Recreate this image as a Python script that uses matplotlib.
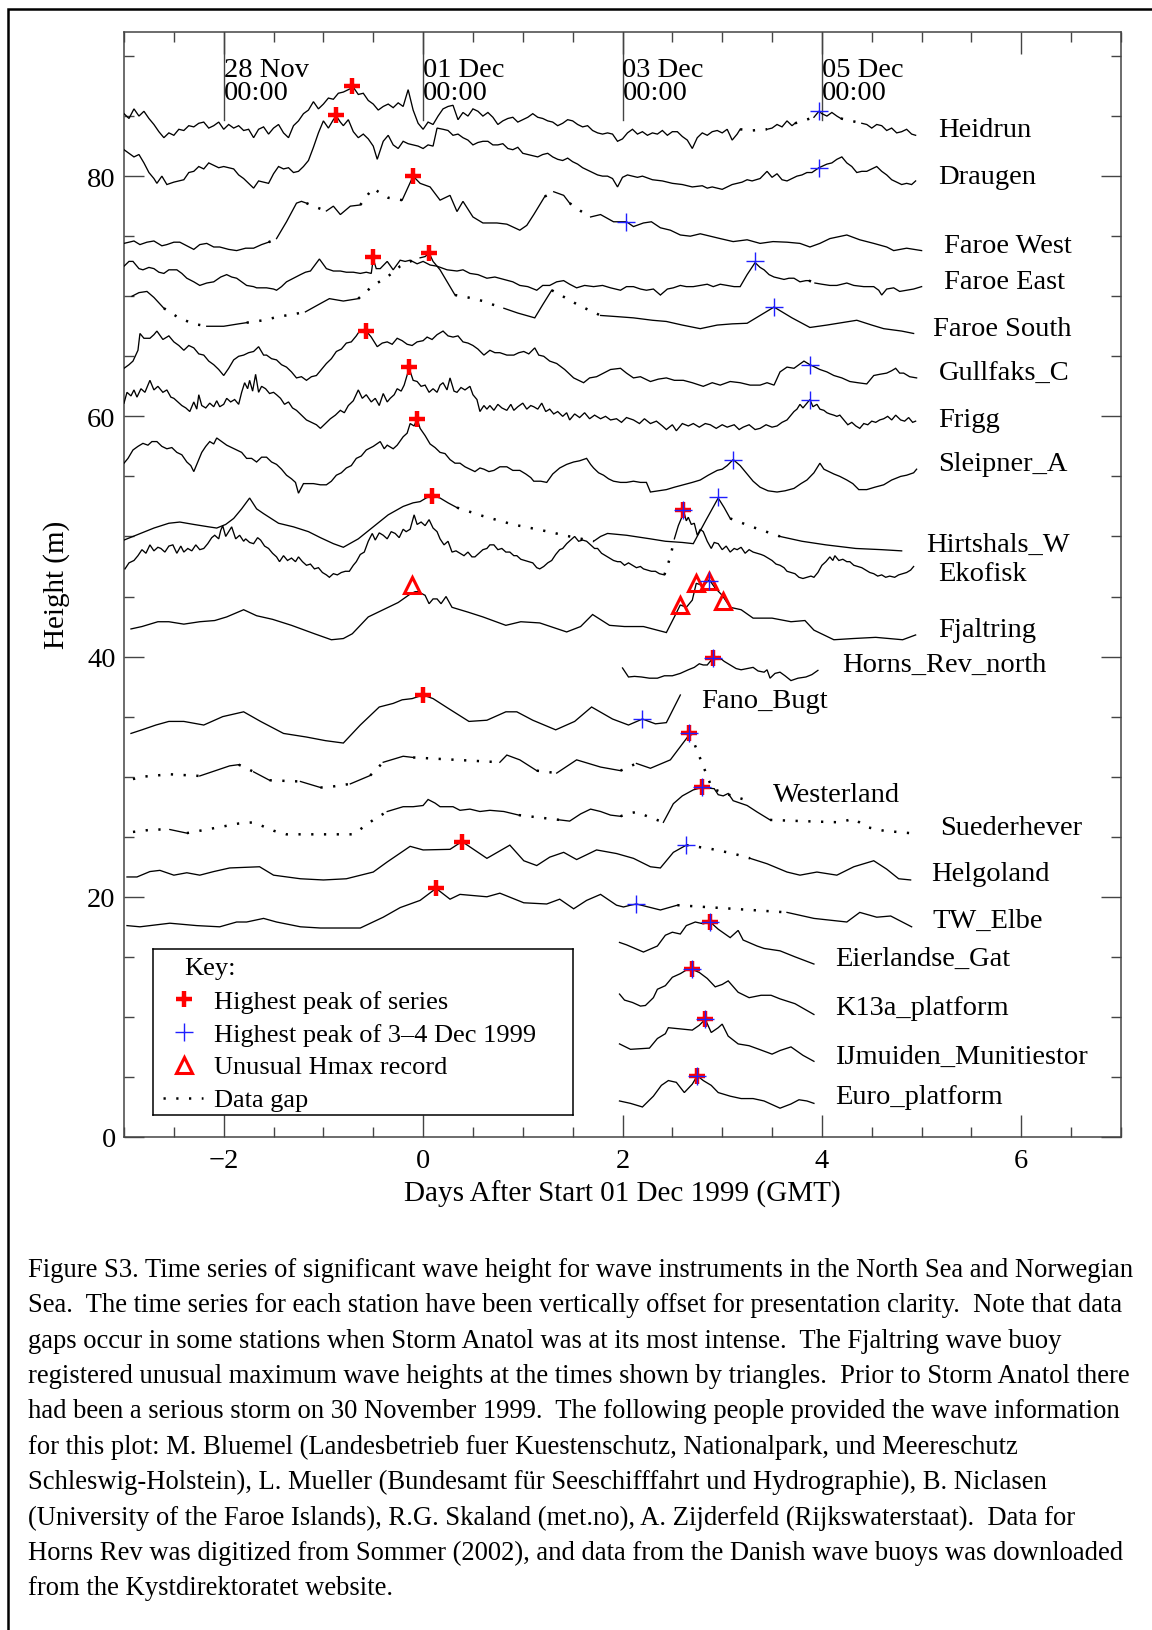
import numpy as np
import matplotlib
matplotlib.use("Agg")
import matplotlib.pyplot as plt
from matplotlib.patches import Rectangle
from matplotlib.ticker import MultipleLocator

plt.rcParams['font.family'] = ['Liberation Serif', 'DejaVu Serif']

# ---------------------------------------------------------------------------
# Significant wave height series (days after 01 Dec 1999, offset height in m)
# ---------------------------------------------------------------------------
heidrun = [(-3.0,85.2),(-2.95,84.8),(-2.9,85.6),(-2.85,85.0),(-2.8,85.4),(-2.75,84.8),(-2.7,84.3),(-2.65,83.7),
    (-2.6,83.2),(-2.55,83.6),(-2.5,83.4),(-2.45,83.9),(-2.4,83.8),(-2.35,84.2),(-2.3,84.1),(-2.25,84.4),(-2.2,84.5),
    (-2.15,84.0),(-2.1,84.2),(-2.05,84.5),(-2.0,83.9),(-1.95,84.3),(-1.9,84.0),(-1.85,84.2),(-1.8,83.8),(-1.75,83.9),
    (-1.7,83.2),(-1.65,83.9),(-1.6,84.1),(-1.55,83.5),(-1.5,84.0),(-1.45,84.3),(-1.4,83.6),(-1.35,83.2),(-1.3,84.2),
    (-1.25,84.6),(-1.2,85.2),(-1.15,85.5),(-1.1,86.2),(-1.05,85.6),(-1.0,86.0),(-0.95,86.5),(-0.9,86.4),(-0.85,86.9),
    (-0.8,87.0),(-0.75,87.2),(-0.7,87.4),(-0.65,86.8),(-0.6,86.9),(-0.55,86.3),(-0.5,86.0),(-0.45,85.5),(-0.4,85.8),
    (-0.35,86.0),(-0.3,85.7),(-0.25,86.1),(-0.2,85.8),(-0.15,87.2),(-0.1,85.5),(-0.05,84.4),(0.0,83.9),(0.05,84.5),
    (0.1,84.3),(0.15,85.0),(0.2,85.6),(0.25,85.8),(0.3,85.9),(0.35,84.7),(0.4,85.3),(0.45,85.0),(0.5,85.6),(0.55,85.4),
    (0.6,85.0),(0.65,85.3),(0.7,84.9),(0.75,84.3),(0.8,84.6),(0.85,84.8),(0.9,84.9),(0.95,84.5),(1.0,84.7),(1.05,84.9),
    (1.1,85.2),(1.15,84.9),(1.2,84.8),(1.25,84.6),(1.3,84.5),(1.35,84.2),(1.4,84.4),(1.45,84.7),(1.5,84.6),(1.55,84.3),
    (1.6,84.1),(1.65,84.2),(1.7,83.8),(1.75,83.6),(1.8,83.5),(1.85,83.6),(1.9,83.5),(1.95,82.9),(2.0,83.1),(2.05,83.6),
    (2.1,83.9),(2.15,83.5),(2.2,83.7),(2.25,83.4),(2.3,83.6),(2.35,83.5),(2.4,83.8),(2.45,83.4),(2.5,83.7),(2.55,83.7),
    (2.6,83.3),(2.65,83.0),(2.7,82.3),(2.75,83.2),(2.8,83.6),(2.85,83.4),(2.9,83.7),(2.95,83.8),(3.0,83.6),(3.05,83.9),
    (3.1,83.0),(3.15,83.5),(3.18,83.9),(3.3,83.8),(3.45,83.9),(3.5,84.0),(3.55,84.3),(3.6,84.1),(3.65,84.6),(3.7,84.2),
    (3.73,84.4),(3.92,84.9),(3.97,85.4),(4.0,85.2),(4.05,85.0),(4.1,85.3),(4.15,85.0),(4.19,84.8),(4.4,84.4),(4.45,84.3),
    (4.5,84.0),(4.55,84.3),(4.6,84.2),(4.65,83.8),(4.7,84.0),(4.75,83.6),(4.8,83.7),(4.85,83.9),(4.9,83.5),(4.94,83.4)]
heidrun_gaps = [(3.18, 3.45), (3.73, 3.92), (4.19, 4.40)]

draugen = [(-3.0,82.2),(-2.95,81.9),(-2.9,81.6),(-2.85,81.8),(-2.8,81.1),(-2.75,80.3),(-2.7,79.8),(-2.67,79.4),
    (-2.62,80.0),(-2.57,79.3),(-2.5,79.5),(-2.45,79.6),(-2.4,79.7),(-2.35,80.3),(-2.3,80.4),(-2.25,80.8),(-2.2,80.6),
    (-2.15,81.1),(-2.1,80.9),(-2.05,80.7),(-2.0,80.8),(-1.95,80.7),(-1.9,80.6),(-1.85,80.1),(-1.8,79.8),(-1.75,79.4),
    (-1.7,79.0),(-1.65,79.6),(-1.6,79.5),(-1.55,79.4),(-1.5,80.2),(-1.45,80.8),(-1.4,80.6),(-1.35,80.7),(-1.3,80.3),
    (-1.25,80.4),(-1.2,80.8),(-1.15,81.3),(-1.1,82.4),(-1.05,83.6),(-1.0,84.6),(-0.95,84.0),(-0.9,84.7),(-0.87,85.0),
    (-0.83,84.5),(-0.8,84.2),(-0.75,84.7),(-0.7,83.7),(-0.65,83.2),(-0.6,83.5),(-0.55,83.1),(-0.5,82.5),(-0.46,81.4),
    (-0.4,82.9),(-0.35,83.4),(-0.3,82.6),(-0.25,82.3),(-0.2,82.9),(-0.15,82.7),(-0.1,82.6),(-0.05,82.5),(0.0,82.3),
    (0.05,82.6),(0.1,82.5),(0.14,84.0),(0.2,83.9),(0.25,83.8),(0.3,83.4),(0.35,83.5),(0.4,83.2),(0.45,83.0),(0.5,82.6),
    (0.55,82.8),(0.6,82.9),(0.65,82.9),(0.7,82.6),(0.75,82.6),(0.8,82.7),(0.85,82.3),(0.9,82.2),(0.95,82.4),(1.0,81.9),
    (1.05,81.8),(1.1,81.7),(1.15,81.6),(1.2,81.8),(1.25,81.9),(1.3,81.6),(1.35,81.4),(1.4,81.3),(1.45,81.5),(1.5,81.2),
    (1.55,81.0),(1.6,80.7),(1.65,80.5),(1.7,80.3),(1.75,80.1),(1.8,80.0),(1.85,80.0),(1.9,79.8),(1.95,79.1),(2.0,79.9),
    (2.05,80.1),(2.1,80.0),(2.15,79.9),(2.2,80.0),(2.3,79.7),(2.4,79.6),(2.5,79.4),(2.6,79.3),(2.7,79.1),(2.8,79.2),
    (2.85,79.0),(2.9,79.1),(3.0,78.9),(3.05,79.1),(3.1,79.3),(3.2,79.5),(3.25,79.7),(3.3,79.6),(3.38,79.8),(3.45,80.4),
    (3.5,79.9),(3.55,80.2),(3.6,79.7),(3.65,79.6),(3.7,79.8),(3.75,80.0),(3.8,80.1),(3.85,80.3),(3.9,80.3),(3.97,80.7),
    (4.05,81.0),(4.1,81.1),(4.15,81.4),(4.2,81.6),(4.25,81.1),(4.3,80.8),(4.35,80.3),(4.4,80.4),(4.45,80.4),(4.5,80.6),
    (4.55,80.8),(4.6,80.4),(4.65,80.1),(4.7,79.7),(4.75,79.5),(4.8,79.3),(4.85,79.4),(4.9,79.3),(4.94,79.6)]
draugen_gaps = []

faroe_west = [(-3.0,74.4),(-2.9,74.6),(-2.84,74.3),(-2.77,74.5),(-2.7,74.6),(-2.62,74.2),(-2.57,74.3),(-2.5,74.5),
    (-2.44,74.5),(-2.37,74.2),(-2.3,73.9),(-2.24,74.3),(-2.17,74.4),(-2.1,74.1),(-2.04,74.1),(-1.95,73.9),(-1.87,73.8),
    (-1.78,74.0),(-1.7,74.0),(-1.62,74.3),(-1.55,74.5),(-1.47,74.8),(-1.37,76.2),(-1.27,77.75),(-1.22,77.9),
    (-1.17,77.75),(-1.07,77.4),(-0.97,77.1),(-0.9,77.5),(-0.83,76.8),(-0.73,77.5),(-0.63,77.6),(-0.55,78.5),
    (-0.5,79.0),(-0.45,78.7),(-0.35,78.2),(-0.21,78.0),(-0.1,80.0),(-0.03,79.4),(0.07,79.1),(0.17,78.0),(0.27,78.4),
    (0.34,77.05),(0.4,77.9),(0.5,76.6),(0.6,76.1),(0.74,76.1),(0.84,76.0),(0.97,75.5),(1.04,75.9),(1.11,76.8),
    (1.22,78.3),(1.31,78.7),(1.41,78.4),(1.47,77.75),(1.58,77.1),(1.68,76.6),(1.78,76.8),(1.91,76.2),(2.04,76.2),
    (2.11,75.8),(2.21,76.1),(2.29,76.2),(2.38,75.7),(2.48,75.5),(2.58,75.1),(2.68,75.0),(2.78,75.2),(2.88,75.0),
    (2.98,74.8),(3.11,74.55),(3.25,74.7),(3.38,74.4),(3.51,74.55),(3.65,74.5),(3.78,74.4),(3.88,74.1),(3.98,74.4),
    (4.08,74.8),(4.25,75.1),(4.38,74.7),(4.52,74.4),(4.65,74.1),(4.72,73.8),(4.85,74.0),(5.0,73.8)]
faroe_west_gaps = [(-1.55, -1.47), (-1.17, -0.97), (-0.63, -0.21), (1.22, 1.31), (1.47, 1.68)]

faroe_east = [(-3.0,72.5),(-2.95,72.9),(-2.91,72.9),(-2.85,72.3),(-2.81,72.2),(-2.75,72.4),(-2.7,72.3),(-2.65,72.0),
    (-2.6,71.9),(-2.55,72.2),(-2.47,72.2),(-2.42,71.9),(-2.37,71.5),(-2.3,71.2),(-2.24,70.9),(-2.17,71.1),(-2.1,71.2),
    (-2.03,71.6),(-1.97,71.8),(-1.92,71.6),(-1.87,71.5),(-1.82,71.2),(-1.77,70.9),(-1.7,70.8),(-1.67,70.7),(-1.6,70.7),
    (-1.57,70.7),(-1.5,70.6),(-1.47,70.5),(-1.42,70.8),(-1.37,71.2),(-1.3,71.5),(-1.23,71.8),(-1.18,72.0),(-1.13,72.1),
    (-1.04,73.1),(-0.97,72.3),(-0.9,72.1),(-0.83,72.1),(-0.77,72.0),(-0.7,72.0),(-0.63,71.9),(-0.57,72.0),(-0.52,71.9),
    (-0.5,73.1),(-0.47,72.3),(-0.43,72.3),(-0.36,72.9),(-0.3,72.2),(-0.23,73.0),(-0.18,72.9),(-0.13,73.0),(-0.06,72.7),
    (0.0,72.9),(0.07,72.6),(0.14,72.5),(0.24,72.2),(0.34,72.1),(0.4,72.2),(0.47,71.9),(0.55,71.8),(0.64,71.5),
    (0.72,71.6),(0.81,71.4),(0.9,71.2),(0.97,70.9),(1.05,70.8),(1.14,70.5),(1.2,70.9),(1.27,70.9),(1.34,71.2),
    (1.41,71.3),(1.47,71.0),(1.54,70.7),(1.62,70.9),(1.71,70.8),(1.8,70.9),(1.88,70.7),(1.98,70.5),(2.04,70.8),
    (2.11,70.8),(2.18,70.6),(2.24,70.5),(2.31,70.6),(2.38,70.1),(2.45,70.6),(2.51,70.7),(2.58,70.9),(2.64,70.8),
    (2.71,70.8),(2.78,70.9),(2.85,71.0),(2.91,70.8),(2.98,71.0),(3.05,70.9),(3.12,70.8),(3.18,70.8),(3.25,71.8),
    (3.33,72.8),(3.38,72.4),(3.42,72.2),(3.47,71.8),(3.52,71.6),(3.57,71.5),(3.62,71.4),(3.67,71.5),(3.72,71.5),
    (3.78,71.2),(3.84,71.3),(3.87,71.3),(3.93,71.1),(4.0,71.0),(4.08,70.9),(4.15,70.9),(4.25,71.1),(4.32,70.9),
    (4.42,70.8),(4.52,70.8),(4.57,70.5),(4.6,70.1),(4.65,70.6),(4.72,70.7),(4.78,70.4),(4.85,70.5),(4.92,70.6),(5.0,70.8)]
faroe_east_gaps = [(3.87, 3.93)]

faroe_south = [(-2.92,70.0),(-2.85,70.3),(-2.77,70.4),(-2.7,69.9),(-2.6,69.0),(-2.45,68.2),(-2.3,67.7),(-2.17,67.5),
    (-2.0,67.5),(-1.85,67.7),(-1.77,67.8),(-1.6,68.0),(-1.45,68.3),(-1.3,68.5),(-1.18,68.7),(-1.05,69.3),(-0.94,69.8),
    (-0.8,69.6),(-0.65,69.8),(-0.5,70.9),(-0.36,71.6),(-0.23,72.5),(-0.1,73.0),(-0.03,73.2),(0.02,73.3),(0.06,73.6),
    (0.1,72.9),(0.17,72.2),(0.32,70.1),(0.45,69.9),(0.6,69.6),(0.7,69.3),(0.81,69.0),(0.95,68.6),(1.12,68.2),
    (1.2,69.3),(1.29,70.5),(1.4,70.0),(1.55,69.3),(1.65,68.9),(1.78,68.4),(1.95,68.3),(2.11,68.2),(2.3,68.0),
    (2.44,67.9),(2.6,67.6),(2.78,67.3),(2.95,67.6),(3.1,67.7),(3.25,67.75),(3.52,69.1),(3.7,68.2),(3.88,67.4),
    (4.05,67.6),(4.2,67.8),(4.35,68.0),(4.5,67.6),(4.62,67.3),(4.8,67.1),(4.92,66.9)]
faroe_south_gaps = [(-2.6, -2.17), (-1.77, -1.18), (-0.65, -0.03), (0.32, 0.81), (1.29, 1.78)]

gullfaks = [(-3.0,64.0),(-2.95,64.3),(-2.91,64.6),(-2.86,65.5),(-2.84,66.9),(-2.8,66.5),(-2.74,66.5),(-2.7,66.8),
    (-2.67,67.1),(-2.61,66.4),(-2.55,66.7),(-2.5,66.2),(-2.45,65.9),(-2.4,65.5),(-2.35,65.9),(-2.3,65.7),(-2.25,65.2),
    (-2.2,65.1),(-2.15,64.6),(-2.1,64.3),(-2.05,63.9),(-2.0,63.4),(-1.95,64.0),(-1.9,64.7),(-1.85,65.0),(-1.8,65.1),
    (-1.75,65.3),(-1.7,65.4),(-1.65,65.8),(-1.6,65.1),(-1.57,65.1),(-1.52,64.8),(-1.47,64.7),(-1.42,64.3),(-1.37,64.1),
    (-1.32,63.7),(-1.27,63.2),(-1.22,63.3),(-1.17,63.0),(-1.12,63.3),(-1.07,63.4),(-1.02,63.9),(-0.97,64.4),(-0.92,64.8),
    (-0.87,65.4),(-0.82,65.6),(-0.77,66.1),(-0.72,66.2),(-0.67,66.7),(-0.63,67.2),(-0.57,67.1),(-0.52,66.6),(-0.46,65.8),
    (-0.41,66.1),(-0.36,66.2),(-0.31,66.0),(-0.26,66.5),(-0.21,66.3),(-0.16,66.0),(-0.11,65.9),(-0.06,66.2),(0.0,66.3),
    (0.04,66.6),(0.09,66.4),(0.14,66.8),(0.2,67.1),(0.25,66.7),(0.3,66.6),(0.35,66.7),(0.4,66.2),(0.45,66.1),(0.5,65.9),
    (0.55,65.6),(0.61,65.1),(0.67,65.5),(0.72,65.3),(0.77,65.3),(0.84,65.1),(0.91,65.1),(0.96,65.3),(1.01,65.4),
    (1.06,65.2),(1.12,65.7),(1.16,65.1),(1.21,65.0),(1.27,64.6),(1.34,64.4),(1.42,63.9),(1.51,63.2),(1.56,63.0),
    (1.61,62.8),(1.67,63.2),(1.74,63.3),(1.81,63.6),(1.88,63.9),(1.98,64.0),(2.04,63.6),(2.11,63.2),(2.18,63.3),
    (2.28,62.9),(2.36,63.1),(2.44,63.2),(2.52,63.0),(2.61,63.0),(2.7,62.8),(2.81,62.5),(2.9,62.8),(2.98,62.6),
    (3.08,62.9),(3.18,62.8),(3.28,62.6),(3.38,62.6),(3.45,62.8),(3.52,62.6),(3.58,63.7),(3.65,64.1),(3.72,64.0),
    (3.77,64.3),(3.82,64.6),(3.88,64.3),(3.93,64.1),(3.98,63.9),(4.05,63.7),(4.12,63.4),(4.2,63.2),(4.28,62.9),
    (4.36,62.8),(4.45,62.7),(4.52,63.4),(4.58,63.5),(4.65,63.6),(4.7,63.8),(4.74,64.0),(4.78,63.6),(4.82,63.6),
    (4.88,63.3),(4.95,63.2)]
gullfaks_gaps = []

frigg = [(-3.0,61.1),(-2.97,62.0),(-2.93,61.7),(-2.9,62.2),(-2.87,61.6),(-2.83,62.3),(-2.79,62.0),(-2.74,63.0),
    (-2.7,62.2),(-2.66,62.5),(-2.61,62.0),(-2.57,62.2),(-2.53,61.6),(-2.5,61.5),(-2.46,61.2),(-2.42,60.9),(-2.38,60.7),
    (-2.34,60.4),(-2.3,61.2),(-2.27,60.6),(-2.25,61.8),(-2.22,60.9),(-2.18,60.7),(-2.14,61.1),(-2.1,60.8),(-2.07,61.3),
    (-2.04,60.8),(-2.0,61.0),(-1.97,61.5),(-1.93,61.2),(-1.89,61.4),(-1.85,61.0),(-1.82,62.0),(-1.79,62.8),(-1.76,62.3),
    (-1.74,63.0),(-1.71,62.1),(-1.68,63.5),(-1.65,62.0),(-1.62,62.5),(-1.58,62.3),(-1.54,61.9),(-1.5,62.0),(-1.47,61.8),
    (-1.43,61.5),(-1.39,61.0),(-1.35,61.2),(-1.31,60.7),(-1.27,60.5),(-1.22,60.1),(-1.17,59.7),(-1.12,59.5),(-1.07,59.3),
    (-1.03,59.0),(-0.98,59.4),(-0.93,59.8),(-0.88,60.1),(-0.83,60.5),(-0.79,60.3),(-0.75,60.9),(-0.7,61.3),(-0.65,62.2),
    (-0.61,61.5),(-0.57,61.8),(-0.52,61.2),(-0.48,61.5),(-0.44,60.9),(-0.4,61.9),(-0.36,61.2),(-0.33,61.5),(-0.29,61.8),
    (-0.26,62.3),(-0.22,62.1),(-0.19,62.6),(-0.15,63.7),(-0.14,64.0),(-0.1,63.0),(-0.06,62.9),(-0.02,62.5),(0.02,62.6),
    (0.06,62.0),(0.1,62.3),(0.14,62.0),(0.17,62.6),(0.2,62.8),(0.24,62.2),(0.27,63.2),(0.31,62.1),(0.34,62.0),
    (0.38,62.4),(0.42,62.2),(0.47,62.5),(0.5,61.8),(0.54,61.4),(0.57,60.4),(0.61,60.9),(0.64,60.6),(0.67,60.9),
    (0.71,60.5),(0.75,61.0),(0.79,60.7),(0.84,60.5),(0.88,61.0),(0.91,60.5),(0.95,60.8),(1.0,61.1),(1.04,60.6),
    (1.08,60.9),(1.11,60.8),(1.15,60.6),(1.19,61.1),(1.23,60.4),(1.27,60.6),(1.31,60.2),(1.35,60.4),(1.4,60.0),
    (1.44,60.3),(1.47,59.7),(1.52,60.2),(1.57,59.9),(1.62,60.3),(1.67,59.8),(1.72,60.1),(1.78,59.8),(1.83,60.0),
    (1.88,59.7),(1.94,59.8),(1.99,59.5),(2.04,59.9),(2.11,59.7),(2.17,59.4),(2.22,59.8),(2.28,59.4),(2.34,59.6),
    (2.4,59.2),(2.44,58.9),(2.5,59.3),(2.54,58.8),(2.6,59.4),(2.66,59.2),(2.71,59.4),(2.77,59.1),(2.83,59.4),
    (2.88,59.3),(2.94,59.0),(3.0,59.3),(3.05,59.1),(3.12,59.3),(3.17,58.9),(3.21,59.1),(3.27,59.3),(3.33,58.9),
    (3.38,59.0),(3.44,59.3),(3.5,59.1),(3.55,59.2),(3.6,59.5),(3.65,59.7),(3.68,60.0),(3.72,60.4),(3.75,60.6),
    (3.78,61.0),(3.81,60.7),(3.85,61.1),(3.88,61.4),(3.91,60.8),(3.95,61.0),(3.98,60.6),(4.02,60.5),(4.05,60.3),
    (4.08,60.2),(4.12,60.1),(4.15,60.0),(4.18,60.1),(4.22,59.7),(4.26,59.3),(4.3,59.5),(4.34,59.2),(4.38,59.0),
    (4.42,59.4),(4.46,59.3),(4.5,59.6),(4.54,59.5),(4.58,59.7),(4.62,59.8),(4.66,60.0),(4.7,59.7),(4.74,60.1),
    (4.79,59.7),(4.83,59.6),(4.87,59.9),(4.91,59.5),(4.94,59.6)]
frigg_gaps = []

sleipner = [(-3.0,56.1),(-2.96,56.5),(-2.91,57.2),(-2.86,57.5),(-2.81,57.75),(-2.76,57.6),(-2.72,57.9),(-2.67,57.9),
    (-2.62,57.5),(-2.57,57.3),(-2.52,57.4),(-2.47,57.0),(-2.42,56.8),(-2.37,56.2),(-2.33,55.9),(-2.3,55.4),(-2.26,56.2),
    (-2.22,57.0),(-2.18,57.5),(-2.14,57.9),(-2.1,57.7),(-2.07,58.2),(-2.02,57.9),(-1.97,57.6),(-1.92,57.4),(-1.87,57.2),
    (-1.82,57.0),(-1.77,56.5),(-1.72,56.5),(-1.67,56.2),(-1.62,56.6),(-1.57,56.6),(-1.52,56.2),(-1.47,56.0),(-1.42,55.6),
    (-1.37,55.1),(-1.32,54.8),(-1.28,54.5),(-1.25,53.6),(-1.2,54.4),(-1.15,54.4),(-1.1,54.4),(-1.03,54.3),(-0.97,54.3),
    (-0.92,54.6),(-0.87,55.1),(-0.82,55.3),(-0.77,55.7),(-0.72,55.9),(-0.67,56.5),(-0.62,56.7),(-0.57,57.2),(-0.5,57.5),
    (-0.43,57.9),(-0.39,57.3),(-0.36,57.6),(-0.3,57.3),(-0.26,57.6),(-0.2,58.3),(-0.16,58.6),(-0.13,59.4),(-0.09,59.2),
    (-0.06,59.8),(-0.03,59.0),(0.02,58.4),(0.07,57.7),(0.12,57.4),(0.17,57.0),(0.22,56.9),(0.27,56.4),(0.32,56.1),
    (0.37,56.1),(0.42,55.8),(0.47,55.6),(0.52,55.4),(0.57,55.7),(0.61,55.6),(0.66,55.4),(0.71,55.5),(0.77,55.8),
    (0.84,55.8),(0.9,55.5),(0.97,55.5),(1.03,55.2),(1.08,54.9),(1.11,54.6),(1.18,54.6),(1.24,54.5),(1.3,55.2),
    (1.37,55.7),(1.44,56.0),(1.51,56.2),(1.57,56.3),(1.64,56.5),(1.68,56.0),(1.71,55.7),(1.76,55.3),(1.81,55.1),
    (1.86,54.8),(1.91,54.6),(1.98,54.5),(2.04,54.5),(2.11,54.6),(2.18,54.5),(2.24,54.5),(2.28,53.7),(2.36,53.8),
    (2.44,53.9),(2.52,54.1),(2.61,54.3),(2.7,54.5),(2.78,54.7),(2.86,55.1),(2.95,55.5),(3.0,55.6),(3.05,55.9),
    (3.11,56.4),(3.18,55.9),(3.25,55.2),(3.31,54.6),(3.38,54.1),(3.46,53.8),(3.55,53.7),(3.63,53.8),(3.72,54.0),
    (3.79,54.4),(3.85,54.7),(3.92,55.3),(3.98,56.1),(4.02,55.6),(4.07,55.4),(4.12,55.2),(4.18,55.0),(4.25,54.7),
    (4.31,54.4),(4.37,53.9),(4.45,53.9),(4.53,54.1),(4.62,54.3),(4.7,54.7),(4.79,55.0),(4.85,55.1),(4.92,55.3),(4.95,55.6)]
sleipner_gaps = []

hirtshals = [(-3.0,49.7),(-2.85,50.2),(-2.7,50.7),(-2.55,51.1),(-2.44,51.2),(-2.3,51.0),(-2.15,50.8),(-2.07,50.7),
    (-1.98,51.0),(-1.9,51.5),(-1.82,52.3),(-1.74,53.2),(-1.67,52.3),(-1.6,51.9),(-1.45,51.1),(-1.3,50.8),(-1.15,50.4),
    (-1.03,49.9),(-0.9,49.4),(-0.8,49.1),(-0.65,49.8),(-0.5,50.8),(-0.35,51.8),(-0.2,52.5),(-0.1,52.8),(-0.03,52.9),
    (0.03,53.2),(0.09,53.4),(0.17,53.2),(0.25,52.8),(0.34,52.4),(0.6,51.7),(0.9,51.0),(1.2,50.5),(1.47,50.0),
    (1.71,49.6),(1.78,50.0),(1.85,50.25),(2.04,50.1),(2.28,49.8),(2.43,49.6),(2.6,49.5),(2.71,49.4),(2.84,51.4),
    (2.96,53.2),(3.02,52.4),(3.08,51.5),(3.3,50.8),(3.58,50.0),(3.8,49.6),(4.04,49.3),(4.34,49.0),(4.6,48.9),(4.8,48.8)]
hirtshals_gaps = [(0.34, 1.71), (3.08, 3.58)]

ekofisk = [(-2.99,47.3),(-2.95,47.8),(-2.9,48.0),(-2.86,48.4),(-2.82,48.9),(-2.78,48.6),(-2.74,49.3),(-2.7,48.8),
    (-2.66,49.1),(-2.63,49.0),(-2.59,48.7),(-2.55,49.2),(-2.51,49.3),(-2.47,48.6),(-2.43,49.2),(-2.4,48.7),(-2.36,49.0),
    (-2.32,48.8),(-2.28,49.3),(-2.24,48.9),(-2.2,49.0),(-2.16,49.4),(-2.12,49.9),(-2.09,50.1),(-2.05,49.8),(-2.03,50.5),
    (-2.01,50.9),(-1.98,50.0),(-1.95,50.4),(-1.92,50.8),(-1.88,49.8),(-1.84,50.1),(-1.8,49.6),(-1.78,49.8),(-1.74,49.5),
    (-1.7,49.4),(-1.66,49.9),(-1.63,49.7),(-1.59,49.2),(-1.55,49.0),(-1.51,48.6),(-1.47,48.3),(-1.44,47.9),(-1.4,48.4),
    (-1.36,48.0),(-1.32,48.2),(-1.28,47.9),(-1.25,48.3),(-1.21,47.9),(-1.17,47.6),(-1.13,47.7),(-1.09,47.3),(-1.05,47.4),
    (-1.01,47.0),(-0.97,46.8),(-0.94,46.6),(-0.9,46.9),(-0.86,46.8),(-0.82,47.0),(-0.78,47.1),(-0.74,47.1),(-0.7,47.6),
    (-0.67,47.9),(-0.63,48.5),(-0.59,48.7),(-0.55,49.6),(-0.51,50.25),(-0.48,49.7),(-0.44,50.3),(-0.4,50.1),(-0.36,49.8),
    (-0.32,50.4),(-0.28,50.25),(-0.24,49.9),(-0.2,50.6),(-0.17,50.4),(-0.13,50.6),(-0.09,51.8),(-0.06,51.0),(-0.02,51.2),
    (0.02,50.9),(0.06,51.4),(0.1,50.7),(0.14,50.4),(0.17,49.8),(0.21,49.3),(0.25,49.6),(0.29,48.7),(0.33,48.8),
    (0.37,48.6),(0.41,48.4),(0.45,48.7),(0.49,48.3),(0.52,48.3),(0.56,48.6),(0.6,48.9),(0.64,49.0),(0.67,49.3),
    (0.71,49.3),(0.75,48.9),(0.79,49.0),(0.83,48.7),(0.87,48.7),(0.91,48.4),(0.94,48.4),(0.98,48.1),(1.02,48.0),
    (1.06,47.9),(1.1,47.8),(1.14,47.4),(1.17,47.3),(1.21,47.5),(1.25,47.8),(1.29,48.0),(1.33,48.5),(1.37,48.9),
    (1.4,49.0),(1.44,49.4),(1.48,49.7),(1.52,50.0),(1.56,49.6),(1.6,49.7),(1.64,49.6),(1.68,49.3),(1.72,49.0),
    (1.75,49.0),(1.79,48.6),(1.83,48.4),(1.87,48.2),(1.91,48.0),(1.95,47.9),(1.98,47.9),(2.02,47.6),(2.06,47.8),
    (2.1,47.6),(2.14,47.4),(2.18,47.5),(2.21,47.3),(2.25,47.2),(2.29,47.1),(2.33,47.1),(2.37,46.9),(2.42,46.8),
    (2.48,48.3),(2.52,49.8),(2.56,50.9),(2.59,51.5),(2.61,52.2),(2.64,51.3),(2.66,51.6),(2.69,51.0),(2.72,51.1),
    (2.75,50.1),(2.78,50.6),(2.81,50.4),(2.85,49.6),(2.89,49.0),(2.92,49.5),(2.96,49.4),(3.0,48.9),(3.04,49.2),
    (3.08,48.7),(3.12,49.0),(3.15,48.9),(3.19,49.1),(3.23,48.6),(3.27,48.9),(3.31,48.7),(3.35,48.6),(3.39,48.5),
    (3.42,48.4),(3.46,48.2),(3.5,48.0),(3.54,47.7),(3.58,47.6),(3.62,47.4),(3.65,47.1),(3.69,47.0),(3.73,46.9),
    (3.77,46.6),(3.81,46.5),(3.85,46.6),(3.89,46.7),(3.92,46.6),(3.96,47.0),(4.0,47.6),(4.04,47.9),(4.08,48.3),
    (4.11,48.0),(4.13,48.4),(4.17,48.0),(4.21,48.1),(4.25,47.9),(4.28,47.9),(4.32,47.6),(4.36,47.5),(4.4,47.4),
    (4.44,47.2),(4.48,47.0),(4.52,46.9),(4.56,46.7),(4.6,46.8),(4.64,46.6),(4.68,46.7),(4.73,46.6),(4.77,46.8),
    (4.81,46.9),(4.85,47.0),(4.89,47.2),(4.92,47.5)]
ekofisk_gaps = [(2.42, 2.52)]

fjaltring = [(-2.93,42.3),(-2.82,42.5),(-2.66,42.9),(-2.55,42.9),(-2.4,42.7),(-2.24,42.9),(-2.09,43.0),(-1.97,43.3),
    (-1.8,43.9),(-1.67,43.4),(-1.51,43.1),(-1.32,42.6),(-1.09,41.9),(-0.92,41.4),(-0.8,41.5),(-0.71,41.9),(-0.55,43.3),
    (-0.4,43.9),(-0.25,44.5),(-0.13,45.2),(-0.08,45.4),(-0.05,45.4),(0.02,45.1),(0.06,44.4),(0.1,44.8),(0.14,44.8),
    (0.18,44.4),(0.23,45.0),(0.29,44.1),(0.45,43.7),(0.6,43.3),(0.83,42.6),(0.98,42.9),(1.17,42.8),(1.44,42.05),
    (1.58,42.5),(1.7,43.5),(1.87,42.6),(2.02,42.5),(2.21,42.5),(2.44,42.0),(2.52,43.3),(2.58,44.3),(2.64,44.1),
    (2.7,44.7),(2.74,46.1),(2.81,45.9),(2.87,46.4),(2.93,45.7),(3.0,45.1),(3.08,44.1),(3.19,43.9),(3.31,43.2),
    (3.5,43.2),(3.69,42.9),(3.83,43.0),(3.92,42.2),(4.12,41.4),(4.31,41.5),(4.54,41.6),(4.81,41.4),(4.94,41.8)]
fjaltring_gaps = []

horns_rev = [(2.0,39.05),(2.06,38.3),(2.12,38.35),(2.19,38.3),(2.27,38.2),(2.35,38.2),(2.42,38.4),(2.5,38.4),
    (2.58,38.6),(2.66,38.9),(2.72,39.1),(2.77,39.4),(2.81,39.3),(2.85,39.3),(2.91,39.9),(2.96,40.0),(3.02,39.6),
    (3.08,39.3),(3.14,39.0),(3.19,38.9),(3.25,39.0),(3.31,39.1),(3.36,38.8),(3.42,38.7),(3.45,38.9),(3.48,38.2),
    (3.53,38.6),(3.58,38.7),(3.63,38.4),(3.69,38.0),(3.76,38.2),(3.84,38.3),(3.9,38.5),(3.96,38.85)]
horns_rev_gaps = []

fano = [(-2.93,33.6),(-2.82,33.9),(-2.68,34.3),(-2.55,34.6),(-2.4,34.6),(-2.2,34.3),(-2.01,35.0),(-1.8,35.4),
    (-1.63,34.6),(-1.4,33.6),(-1.17,33.3),(-0.98,33.0),(-0.8,32.8),(-0.63,34.3),(-0.44,35.8),(-0.3,36.1),(-0.21,36.4),
    (-0.11,36.5),(0.0,36.8),(0.1,36.5),(0.25,35.7),(0.46,34.6),(0.64,34.7),(0.83,35.4),(0.94,35.4),(1.1,34.7),
    (1.33,33.9),(1.52,34.6),(1.69,35.8),(1.9,34.8),(2.06,34.3),(2.2,34.8),(2.33,34.4),(2.44,34.5),(2.58,36.8)]
fano_gaps = []

westerland = [(-2.91,29.8),(-2.81,30.0),(-2.54,30.2),(-2.24,30.06),(-1.94,30.9),(-1.85,31.0),(-1.77,30.7),
    (-1.7,30.4),(-1.54,29.7),(-1.23,29.6),(-1.03,29.1),(-0.97,29.1),(-0.73,29.4),(-0.53,30.1),(-0.4,31.2),(-0.2,31.7),
    (-0.1,31.6),(0.77,31.2),(0.84,31.8),(0.97,31.4),(1.14,30.5),(1.34,30.3),(1.54,31.4),(1.78,30.8),(1.98,30.5),
    (2.14,31.1),(2.28,30.7),(2.48,31.4),(2.68,33.6),(2.78,31.5),(2.9,29.0),(3.1,28.4),(3.3,27.9)]
westerland_gaps = [(-2.91, -2.24), (-1.85, -1.70), (-1.54, -1.23), (-1.03, -0.73), (-0.53, -0.40),
    (-0.10, 0.77), (1.14, 1.34), (1.98, 2.14), (2.68, 3.30)]

suederhever = [(-2.91,25.4),(-2.71,25.6),(-2.54,25.6),(-2.37,25.3),(-2.27,25.45),(-2.04,25.8),(-1.85,26.1),
    (-1.7,26.2),(-1.5,25.5),(-1.37,25.2),(-1.03,25.2),(-0.7,25.2),(-0.5,26.4),(-0.36,27.1),(-0.2,27.5),(-0.1,27.5),
    (0.0,27.6),(0.05,28.1),(0.12,27.8),(0.17,27.5),(0.3,27.5),(0.37,27.2),(0.47,27.3),(0.57,27.1),(0.67,27.2),
    (0.81,27.1),(0.96,26.8),(1.37,26.4),(1.47,26.3),(1.58,26.9),(1.68,27.3),(1.78,27.1),(1.88,26.8),(1.98,26.7),
    (2.04,26.9),(2.14,27.06),(2.28,26.6),(2.41,26.2),(2.51,27.75),(2.6,28.4),(2.71,28.9),(2.8,29.1),(2.92,29.0),
    (2.96,28.5),(3.01,28.4),(3.06,28.6),(3.11,28.0),(3.25,27.6),(3.35,27.06),(3.48,26.4),(3.8,26.3),(4.18,26.2),
    (4.32,26.5),(4.45,25.8),(4.62,25.5),(4.95,25.25)]
suederhever_gaps = [(-2.91, -2.54), (-2.37, -0.36), (0.96, 1.37), (1.98, 2.41), (3.48, 4.95)]

helgoland = [(-2.97,21.65),(-2.87,21.65),(-2.74,22.1),(-2.64,22.2),(-2.5,21.8),(-2.37,22.0),(-2.24,21.8),(-2.1,22.1),
    (-1.94,22.4),(-1.64,22.5),(-1.5,21.8),(-1.23,21.5),(-1.0,21.4),(-0.77,21.5),(-0.5,22.06),(-0.36,22.9),(-0.13,24.2),
    (0.0,23.9),(0.27,23.95),(0.39,24.6),(0.64,23.2),(0.87,24.3),(1.01,23.0),(1.14,22.6),(1.27,23.3),(1.41,23.7),
    (1.54,23.1),(1.74,23.9),(1.94,23.6),(2.11,23.2),(2.28,22.5),(2.38,22.4),(2.51,23.7),(2.64,24.3),(2.88,24.0),
    (3.11,23.6),(3.28,23.2),(3.45,22.75),(3.65,22.06),(3.78,21.8),(3.95,22.06),(4.15,21.8),(4.32,22.5),(4.52,23.0),
    (4.65,22.3),(4.77,21.5),(4.89,21.4)]
helgoland_gaps = [(2.64, 3.28)]

tw_elbe = [(-2.97,17.6),(-2.84,17.5),(-2.54,17.8),(-2.27,17.6),(-2.04,17.5),(-1.87,17.9),(-1.77,17.9),(-1.6,18.2),
    (-1.47,17.9),(-1.23,17.5),(-1.03,17.4),(-0.63,17.4),(-0.4,18.3),(-0.23,19.1),(-0.03,19.7),(0.13,20.7),(0.27,19.8),
    (0.37,20.2),(0.64,20.0),(0.77,20.3),(1.01,19.5),(1.24,19.4),(1.37,19.8),(1.51,19.0),(1.64,19.7),(1.78,20.2),
    (1.94,19.3),(2.01,19.15),(2.08,19.3),(2.14,19.4),(2.38,18.9),(2.55,19.3),(3.11,19.0),(3.65,18.7),(3.92,18.2),
    (4.25,17.9),(4.38,18.7),(4.55,18.3),(4.69,18.4),(4.9,17.5)]
tw_elbe_gaps = [(2.55, 3.65)]

eierlandse = [(1.97,16.2),(2.04,16.0),(2.21,15.4),(2.35,15.9),(2.43,16.8),(2.5,17.05),(2.58,16.9),(2.64,17.6),
    (2.73,17.9),(2.81,17.75),(2.88,17.9),(2.96,17.3),(3.08,16.6),(3.16,17.2),(3.21,16.4),(3.35,15.9),(3.42,15.7),
    (3.58,15.5),(3.73,15.0),(3.92,14.4)]
eierlandse_gaps = []

k13a = [(1.97,11.9),(2.02,11.4),(2.1,11.2),(2.18,10.9),(2.23,10.95),(2.31,11.6),(2.35,12.3),(2.43,12.6),(2.5,13.3),
    (2.58,13.6),(2.64,13.9),(2.7,13.95),(2.77,13.7),(2.85,13.2),(2.93,12.5),(3.0,12.7),(3.06,13.0),(3.16,12.05),
    (3.27,11.6),(3.39,11.8),(3.49,11.8),(3.58,11.5),(3.73,11.1),(3.92,10.2)]
k13a_gaps = []

ijmuiden = [(1.97,7.75),(2.08,7.3),(2.27,7.4),(2.35,8.2),(2.43,8.6),(2.46,9.1),(2.58,9.0),(2.7,8.9),(2.77,9.3),
    (2.83,9.8),(2.89,8.7),(2.96,9.1),(3.0,9.4),(3.06,8.4),(3.16,7.75),(3.27,7.6),(3.37,7.3),(3.5,6.9),(3.58,7.2),
    (3.69,7.5),(3.81,6.8),(3.92,6.3)]
ijmuiden_gaps = []

euro = [(1.97,3.0),(2.08,2.8),(2.2,2.5),(2.31,3.4),(2.39,4.3),(2.46,4.7),(2.54,4.55),(2.62,3.7),(2.7,4.4),(2.75,5.1),
    (2.81,4.7),(2.89,4.3),(2.96,3.7),(3.08,3.4),(3.19,3.2),(3.31,3.2),(3.42,3.0),(3.58,2.4),(3.69,2.75),(3.77,3.1),
    (3.85,3.0),(3.92,2.8)]
euro_gaps = []

# station name, series, gap intervals, label position (day, height)
stations = [
    ("Heidrun", heidrun, heidrun_gaps, 5.17, 84.1),
    ("Draugen", draugen, draugen_gaps, 5.17, 80.2),
    ("Faroe West", faroe_west, faroe_west_gaps, 5.22, 74.5),
    ("Faroe East", faroe_east, faroe_east_gaps, 5.22, 71.5),
    ("Faroe South", faroe_south, faroe_south_gaps, 5.11, 67.6),
    ("Gullfaks_C", gullfaks, gullfaks_gaps, 5.17, 63.9),
    ("Frigg", frigg, frigg_gaps, 5.17, 60.0),
    ("Sleipner_A", sleipner, sleipner_gaps, 5.17, 56.3),
    ("Hirtshals_W", hirtshals, hirtshals_gaps, 5.05, 49.6),
    ("Ekofisk", ekofisk, ekofisk_gaps, 5.17, 47.2),
    ("Fjaltring", fjaltring, fjaltring_gaps, 5.17, 42.5),
    ("Horns_Rev_north", horns_rev, horns_rev_gaps, 4.20, 39.6),
    ("Fano_Bugt", fano, fano_gaps, 2.79, 36.6),
    ("Westerland", westerland, westerland_gaps, 3.51, 28.8),
    ("Suederhever", suederhever, suederhever_gaps, 5.19, 26.0),
    ("Helgoland", helgoland, helgoland_gaps, 5.10, 22.2),
    ("TW_Elbe", tw_elbe, tw_elbe_gaps, 5.11, 18.3),
    ("Eierlandse_Gat", eierlandse, eierlandse_gaps, 4.13, 15.1),
    ("K13a_platform", k13a, k13a_gaps, 4.13, 11.0),
    ("IJmuiden_Munitiestor", ijmuiden, ijmuiden_gaps, 4.13, 7.0),
    ("Euro_platform", euro, euro_gaps, 4.13, 3.6),
]

# Highest peak of each series
peak_series = [(-0.71,87.5),(-0.87,85.1),(-0.10,80.0),(-0.50,73.3),(0.06,73.6),(-0.57,67.1),(-0.14,64.1),
    (-0.06,59.8),(0.09,53.4),(2.61,52.2),(2.91,39.9),(0.0,36.8),(2.67,33.6),(2.80,29.1),(0.39,24.6),(0.13,20.7),
    (2.88,17.9),(2.70,13.95),(2.83,9.8),(2.75,5.1)]
# Highest peak of 3-4 Dec 1999
peak_storm = [(3.97,85.4),(3.97,80.7),(2.04,76.2),(3.33,72.9),(3.52,69.1),(3.88,64.3),(3.88,61.4),(3.11,56.4),
    (2.96,53.3),(2.61,52.2),(2.87,46.3),(2.91,39.9),(2.20,34.8),(2.67,33.6),(2.80,29.1),(2.64,24.3),(2.14,19.4),
    (2.88,17.9),(2.70,13.95),(2.83,9.8),(2.75,5.1)]
# Unusual Hmax records at Fjaltring
hmax_unusual = [(-0.11,46.0),(2.58,44.3),(2.74,46.1),(2.87,46.3),(3.01,44.6)]

date_ticks = [-2, 0, 2, 4]
date_labels = ["28 Nov", "01 Dec", "03 Dec", "05 Dec"]

caption = [
    "Figure S3. Time series of significant wave height for wave instruments in the North Sea and Norwegian",
    "Sea.  The time series for each station have been vertically offset for presentation clarity.  Note that data",
    "gaps occur in some stations when Storm Anatol was at its most intense.  The Fjaltring wave buoy",
    "registered unusual maximum wave heights at the times shown by triangles.  Prior to Storm Anatol there",
    "had been a serious storm on 30 November 1999.  The following people provided the wave information",
    "for this plot: M. Bluemel (Landesbetrieb fuer Kuestenschutz, Nationalpark, und Meereschutz",
    "Schleswig-Holstein), L. Mueller (Bundesamt für Seeschifffahrt und Hydrographie), B. Niclasen",
    "(University of the Faroe Islands), R.G. Skaland (met.no), A. Zijderfeld (Rijkswaterstaat).  Data for",
    "Horns Rev was digitized from Sommer (2002), and data from the Danish wave buoys was downloaded",
    "from the Kystdirektoratet website.",
]

# ---------------------------------------------------------------------------
W, H = 1152, 1631
fig = plt.figure(figsize=(W / 100, H / 100), dpi=100)


def fx(px):
    return px / W


def fy(py):
    return 1 - py / H


SPINE = '#444444'
FS = 20.5
DOT = (0, (0.9, 4.2))

ax = fig.add_axes([fx(124), fy(1138), fx(1121 - 124), (1138 - 33) / H])
ax.set_xlim(-3, 7)
ax.set_ylim(0, 92)


def draw_station(series, gaps):
    t = np.array([p[0] for p in series])
    h = np.array([p[1] for p in series])
    mid = 0.5 * (t[1:] + t[:-1])
    dotted = np.zeros(len(mid), dtype=bool)
    for a, b in gaps:
        dotted |= (mid > a) & (mid < b)
    i = 0
    n = len(mid)
    while i < n:
        j = i
        while j < n and dotted[j] == dotted[i]:
            j += 1
        seg = slice(i, j + 1)
        if dotted[i]:
            ax.plot(t[seg], h[seg], color='black', lw=1.8, ls=DOT, zorder=3)
        else:
            ax.plot(t[seg], h[seg], color='black', lw=0.95, solid_joinstyle='miter', zorder=3)
        i = j


for name, series, gaps, lx, ly in stations:
    draw_station(series, gaps)
    ax.text(lx, ly, name, fontsize=FS, ha='left', va='center_baseline', zorder=4)

RED_KW = dict(marker='+', color='#ff0000', markersize=12, mew=3.2, ls='none', zorder=5)
BLUE_KW = dict(marker='+', color='#1f1fff', markersize=12.5, mew=1.0, ls='none', zorder=6)
TRI_KW = dict(marker='^', mfc='none', mec='#ff0000', markersize=12, mew=2.2, ls='none', zorder=5)

ax.plot([p[0] for p in peak_series], [p[1] for p in peak_series], **RED_KW)
ax.plot([p[0] for p in peak_storm], [p[1] for p in peak_storm], **BLUE_KW)
ax.plot([p[0] for p in hmax_unusual], [p[1] for p in hmax_unusual], **TRI_KW)

# date markers along the top edge
for x, lab in zip(date_ticks, date_labels):
    ax.plot([x, x], [84.7, 92], color=SPINE, lw=1.0, zorder=2)
    ax.text(x, 88.3, lab, fontsize=FS, ha='left', va='baseline')
    ax.text(x, 86.4, "00:00", fontsize=FS, ha='left', va='baseline')

ax.xaxis.set_major_locator(MultipleLocator(2))
ax.xaxis.set_minor_locator(MultipleLocator(0.5))
ax.yaxis.set_major_locator(MultipleLocator(20))
ax.yaxis.set_minor_locator(MultipleLocator(5))
ax.tick_params(which='both', direction='in', top=True, right=True, width=1.0, color=SPINE)
ax.tick_params(which='major', axis='x', length=15.8)
ax.tick_params(which='major', axis='y', length=14.4)
ax.tick_params(which='minor', length=7.2)
ax.tick_params(axis='x', pad=8, labelsize=FS)
ax.tick_params(axis='y', pad=6, labelsize=FS)
for s in ax.spines.values():
    s.set_color(SPINE)
    s.set_linewidth(1.1)

fig.text(fx(622), fy(1194), "Days After Start 01 Dec 1999 (GMT)", fontsize=21, ha='center', va='center')
fig.text(fx(57), fy(585), "Height (m)", fontsize=21, ha='center', va='center', rotation=90)

# key box
lax = fig.add_axes([fx(153), fy(1116), fx(573 - 153), (1116 - 950) / H])
lax.set_xlim(153, 573)
lax.set_ylim(1116, 950)
lax.set_xticks([])
lax.set_yticks([])
for s in lax.spines.values():
    s.set_color('black')
    s.set_linewidth(1.1)
LFS = 19
lax.text(184, 967, "Key:", fontsize=LFS, ha='left', va='center_baseline')
lax.plot([184], [1000], **RED_KW)
lax.text(214, 1000, "Highest peak of series", fontsize=LFS, ha='left', va='center_baseline')
lax.plot([184], [1033], **BLUE_KW)
lax.text(214, 1033, "Highest peak of 3\u20134 Dec 1999", fontsize=LFS, ha='left', va='center_baseline')
lax.plot([184], [1066], **TRI_KW)
lax.text(214, 1066, "Unusual Hmax record", fontsize=LFS, ha='left', va='center_baseline')
lax.plot([163, 203], [1099, 1099], color='black', lw=1.8, ls=DOT)
lax.text(214, 1099, "Data gap", fontsize=LFS, ha='left', va='center_baseline')

# caption
for k, line in enumerate(caption):
    fig.text(fx(28), fy(1270.5 + 35.35 * k), line, fontsize=19.2, ha='left', va='center')

# outer frame
fig.patches.append(Rectangle((fx(7.5), -0.1), 1.2, fy(10) + 0.1, transform=fig.transFigure,
                             fill=False, edgecolor='black', lw=1.8))

fig.savefig("out.png", dpi=100)
